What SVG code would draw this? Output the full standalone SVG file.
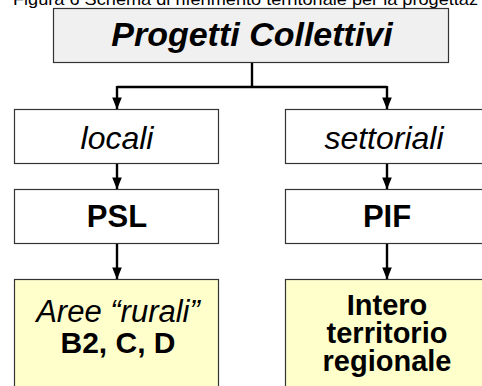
<svg xmlns="http://www.w3.org/2000/svg" width="482" height="386" viewBox="0 0 482 386">
<style>
.box{stroke:#333;stroke-width:1.2}
.t{font-family:"Liberation Sans",Arial,sans-serif;text-anchor:middle;fill:#000}
.conn{stroke:#000;stroke-width:2.4;fill:none}
</style>
<defs>
<marker id="ah" markerWidth="5" markerHeight="4" refX="4.8" refY="2" orient="auto" markerUnits="strokeWidth">
<path d="M0,0 L5,2 L0,4 Z" fill="#000"/>
</marker>
</defs>
<rect width="482" height="386" fill="#fff"/>
<text x="13" y="5" font-family="Liberation Sans, Arial, sans-serif" font-size="17" fill="#000" textLength="465" lengthAdjust="spacingAndGlyphs">Figura 6 Schema di riferimento territoriale per la progettaz</text>
<g id="n_top">
<rect class="box" x="53.5" y="8.5" width="395" height="54" fill="#f0f0f0" stroke="#888"/>
<text class="t" x="252" y="46" font-size="34" font-weight="bold" font-style="italic">Progetti Collettivi</text>
</g>
<g id="n_locali">
<rect class="box" x="14.5" y="109.5" width="204" height="54" fill="#fff"/>
<text class="t" x="117" y="149" font-size="32" font-style="italic">locali</text>
</g>
<g id="n_settoriali">
<rect class="box" x="285.5" y="109.5" width="204" height="54" fill="#fff"/>
<text class="t" x="384" y="149" font-size="32" font-style="italic">settoriali</text>
</g>
<g id="n_psl">
<rect class="box" x="14.5" y="189.5" width="204" height="54" fill="#fff"/>
<text class="t" x="117" y="227" font-size="31" font-weight="bold">PSL</text>
</g>
<g id="n_pif">
<rect class="box" x="285.5" y="189.5" width="204" height="54" fill="#fff"/>
<text class="t" x="387" y="227" font-size="31" font-weight="bold">PIF</text>
</g>
<g id="n_aree">
<rect class="box" x="14.5" y="279.5" width="204" height="120" fill="#ffffcc"/>
<text class="t" x="118" y="322" font-size="31" font-style="italic">Aree “rurali”</text>
<text class="t" x="118" y="353" font-size="30" font-weight="bold">B2, C, D</text>
</g>
<g id="n_intero">
<rect class="box" x="285.5" y="279.5" width="204" height="120" fill="#ffffcc"/>
<text class="t" x="387" y="315" font-size="29" font-weight="bold">Intero</text>
<text class="t" x="387" y="343" font-size="29" font-weight="bold">territorio</text>
<text class="t" x="387" y="371" font-size="29" font-weight="bold">regionale</text>
</g>
<g id="connectors">
<path class="conn" d="M252,63 V87"/>
<path class="conn" d="M117,87 H387"/>
<path class="conn" d="M117,86 V109" marker-end="url(#ah)"/>
<path class="conn" d="M387,86 V109" marker-end="url(#ah)"/>
<path class="conn" d="M117,164 V189" marker-end="url(#ah)"/>
<path class="conn" d="M387,164 V189" marker-end="url(#ah)"/>
<path class="conn" d="M117,244 V279" marker-end="url(#ah)"/>
<path class="conn" d="M387,244 V279" marker-end="url(#ah)"/>
</g>
</svg>
